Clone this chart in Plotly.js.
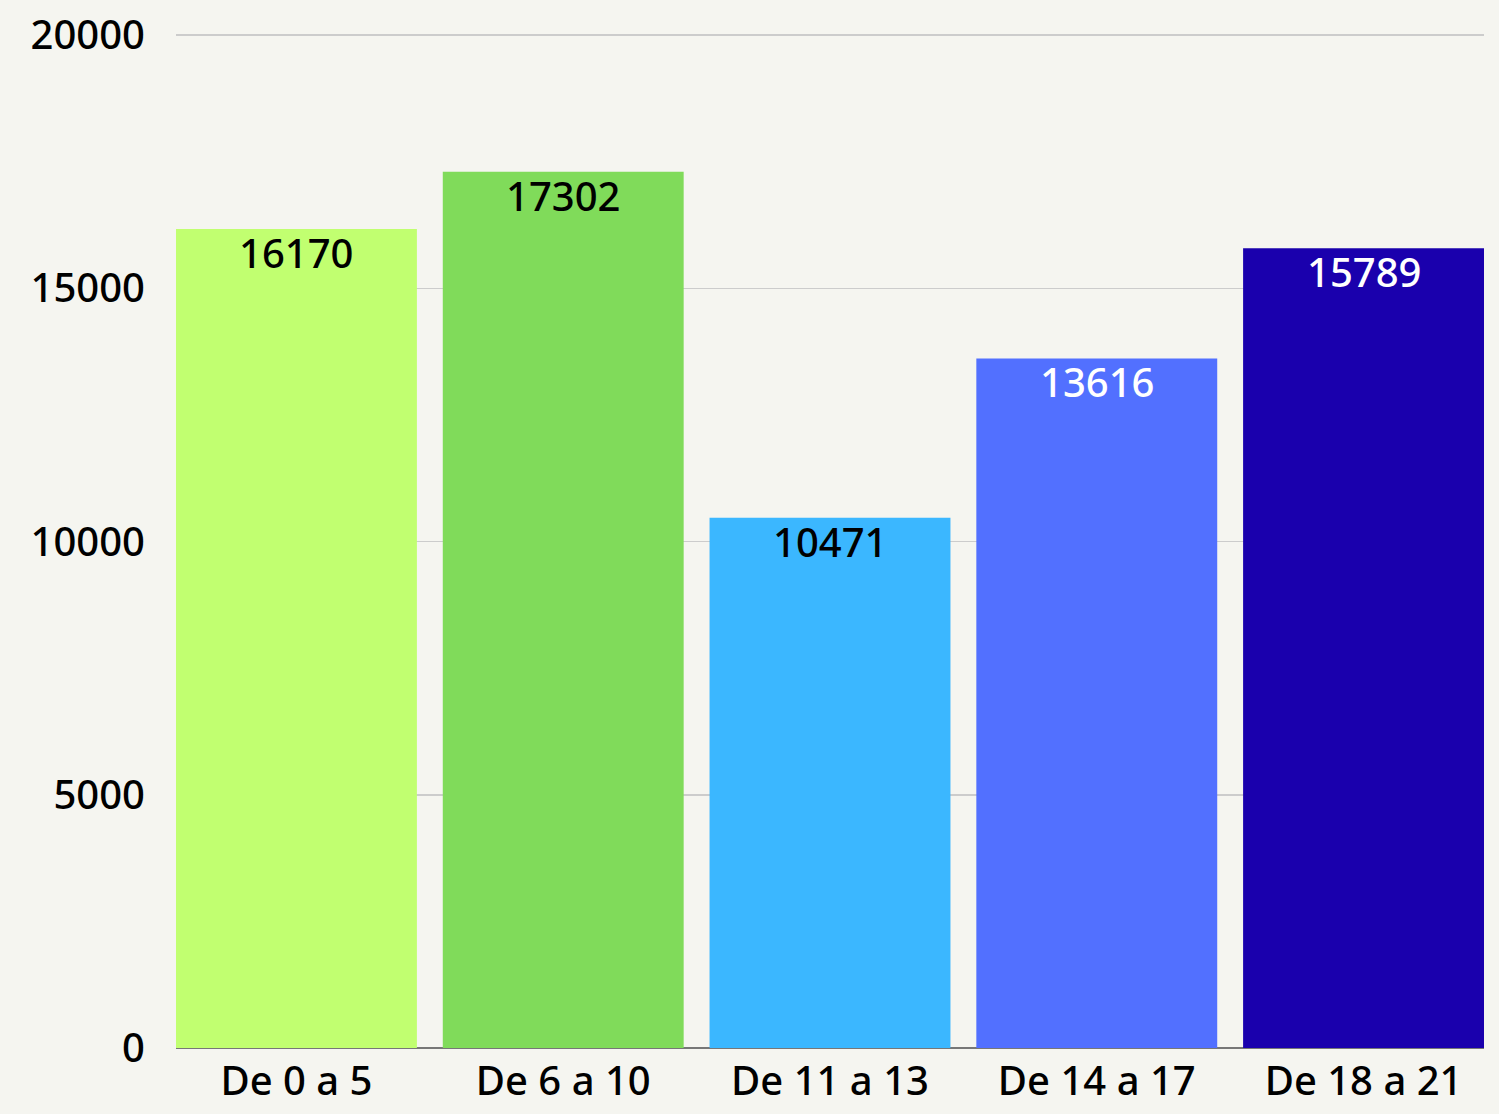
<!DOCTYPE html>
<html>
<head>
<meta charset="utf-8">
<script src="https://cdn.plot.ly/plotly-3.0.1.min.js"></script>
<style>html,body{margin:0;padding:0;background:#F5F5F0;}#chart{width:1499px;height:1114px;}</style>
</head>
<body>
<div id="chart"></div>
<script>
const categories = ["De 0 a 5", "De 6 a 10", "De 11 a 13", "De 14 a 17", "De 18 a 21"];
const values = [16170, 17302, 10471, 13616, 15789];
const barColors = ["#C1FF70", "#80DB5A", "#3BB7FF", "#5270FF", "#1A00AD"];
const labelColors = ["#000000", "#000000", "#000000", "#FFFFFF", "#FFFFFF"];
const yTicks = [0, 5000, 10000, 15000, 20000];

const FONT = "Noto Sans, sans-serif";
const gap = 0.097;

const annotations = categories.map((c, i) => ({
  x: c,
  y: values[i],
  xref: "x",
  yref: "y",
  text: String(values[i]),
  showarrow: false,
  yanchor: "top",
  yshift: 6,
  font: {family: FONT, size: 40, weight: 500, color: labelColors[i]}
}));

Plotly.newPlot("chart", [{
  type: "bar",
  x: categories,
  y: values,
  marker: {color: barColors},
  hoverinfo: "none"
}], {
  width: 1499,
  height: 1114,
  margin: {l: 176, r: 15, t: 32, b: 66},
  paper_bgcolor: "#F5F5F0",
  plot_bgcolor: "#F5F5F0",
  bargap: gap,
  showlegend: false,
  annotations: annotations,
  xaxis: {
    type: "category",
    range: [-0.5 + gap / 2, categories.length - 0.5 - gap / 2],
    showgrid: false,
    ticks: "",
    ticklabelstandoff: 6,
    tickfont: {family: FONT, size: 40, weight: 500, color: "#000000"},
    showline: false,
    zeroline: false
  },
  yaxis: {
    range: [0, 20060],
    tickvals: yTicks,
    ticktext: yTicks.map(String),
    showgrid: true,
    gridcolor: "#CCCCCC",
    gridwidth: 1.5,
    zeroline: true,
    zerolinecolor: "#777777",
    zerolinewidth: 1.5,
    ticks: "",
    ticklabelstandoff: 30,
    tickfont: {family: FONT, size: 40, weight: 500, color: "#000000"}
  }
}, {staticPlot: true});
</script>
</body>
</html>
